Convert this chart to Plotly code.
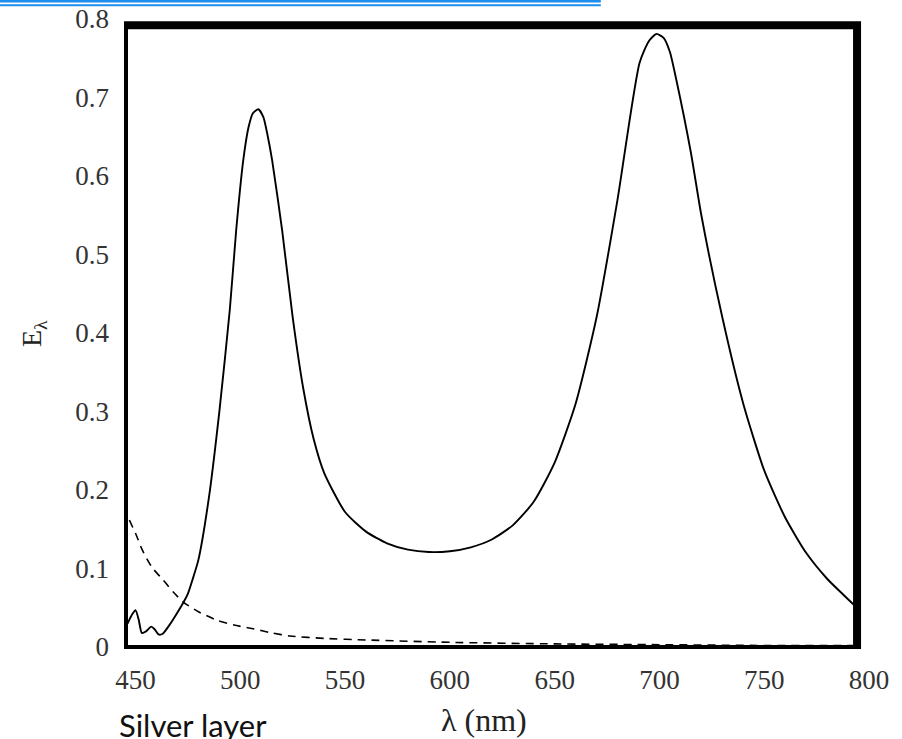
import plotly.graph_objects as go

# ---- data ----
solid_nm = [446.2, 448.5, 450, 451.5, 453, 455, 457.5, 459, 461, 463, 466.7, 470, 472.9, 475, 477.1,
            480, 485, 490, 495, 498, 501.4, 504, 506, 508.6, 511, 513, 515.2, 520, 525, 530, 535,
            540, 550, 560, 570, 580, 590, 600, 610, 620, 630, 640, 650, 660, 670, 680, 690.5, 695,
            698.6, 702, 705, 708.1, 715, 720, 730, 740, 750, 760, 770, 780, 788, 794.3]
solid_E = [0.030, 0.042, 0.047, 0.035, 0.018, 0.020, 0.026, 0.023, 0.016, 0.017, 0.030, 0.044, 0.057,
           0.068, 0.085, 0.111, 0.190, 0.300, 0.430, 0.530, 0.620, 0.663, 0.680, 0.685, 0.675, 0.652,
           0.620, 0.530, 0.420, 0.330, 0.265, 0.222, 0.172, 0.147, 0.132, 0.124, 0.121, 0.122, 0.127,
           0.137, 0.155, 0.185, 0.235, 0.310, 0.420, 0.570, 0.744, 0.772, 0.781, 0.776, 0.758, 0.722,
           0.630, 0.550, 0.420, 0.310, 0.225, 0.165, 0.120, 0.087, 0.066, 0.050]

dash_nm = [444.5, 447, 450, 453, 455.7, 458, 463.3, 468, 472.9, 480, 489, 497, 504.8, 515, 523.8,
           540, 560, 600, 650, 700, 750, 794.3]
dash_E = [0.178, 0.162, 0.145, 0.125, 0.111, 0.101, 0.085, 0.070, 0.057, 0.045, 0.034, 0.028, 0.024,
          0.018, 0.014, 0.011, 0.009, 0.006, 0.004, 0.003, 0.002, 0.002]

x_ticks = [450, 500, 550, 600, 650, 700, 750, 800]
y_ticks = [0, 0.1, 0.2, 0.3, 0.4, 0.5, 0.6, 0.7, 0.8]
y_ticktext = ["0", "0.1", "0.2", "0.3", "0.4", "0.5", "0.6", "0.7", "0.8"]

serif = "Liberation Serif, Times New Roman, serif"

fig = go.Figure()
fig.add_trace(go.Scatter(x=solid_nm, y=solid_E, mode="lines",
                         line=dict(color="black", width=1.9, shape="spline", smoothing=0.6),
                         showlegend=False, hoverinfo="skip"))
fig.add_trace(go.Scatter(x=dash_nm, y=dash_E, mode="lines",
                         line=dict(color="black", width=1.6, dash="8px,6px", shape="spline", smoothing=0.6),
                         showlegend=False, hoverinfo="skip"))

# heavy frame
fig.add_shape(type="rect", xref="x", yref="y", x0=444.5, x1=794.3, y0=-0.0025, y1=0.792,
              line=dict(color="black", width=8), layer="above")

# blue lines at the top edge
for py, w in [(1.2, 2.5), (5.3, 2)]:
    yp = 1 + (19 - py) / 630
    fig.add_shape(type="line", xref="paper", yref="paper", x0=-0.17, x1=0.64, y0=yp, y1=yp,
                  line=dict(color="#1E8FF0", width=w))

fig.add_annotation(text="λ (nm)", xref="paper", yref="paper", x=0.483, y=-0.113,
                   showarrow=False, font=dict(family=serif, size=32, color="#222"),
                   xanchor="center", yanchor="middle")
fig.add_annotation(text="E<sub>λ</sub>", xref="paper", yref="paper", x=-0.122, y=0.5,
                   showarrow=False, textangle=-90, font=dict(family=serif, size=28, color="#222"),
                   xanchor="center", yanchor="middle")
fig.add_annotation(text="Silver layer", xref="paper", yref="paper", x=-0.009, y=-0.088,
                   showarrow=False, font=dict(family="Lato, Open Sans, sans-serif", size=31, color="#111"),
                   xanchor="left", yanchor="top")

fig.update_layout(
    template="none",
    width=902, height=739,
    margin=dict(l=124, r=33, t=19, b=90, autoexpand=False),
    paper_bgcolor="white", plot_bgcolor="white",
    xaxis=dict(range=[444.5, 800], tickvals=x_ticks, showgrid=False, zeroline=False, showline=False,
               automargin=False, ticks="", tickfont=dict(family=serif, size=27, color="#333"),
               ticklabelstandoff=12),
    yaxis=dict(range=[-0.0025, 0.8], tickvals=y_ticks, ticktext=y_ticktext, showgrid=False,
               zeroline=False, showline=False, automargin=False, ticks="",
               tickfont=dict(family=serif, size=27, color="#333"), ticklabelstandoff=14),
)

fig.write_html("out.html")
